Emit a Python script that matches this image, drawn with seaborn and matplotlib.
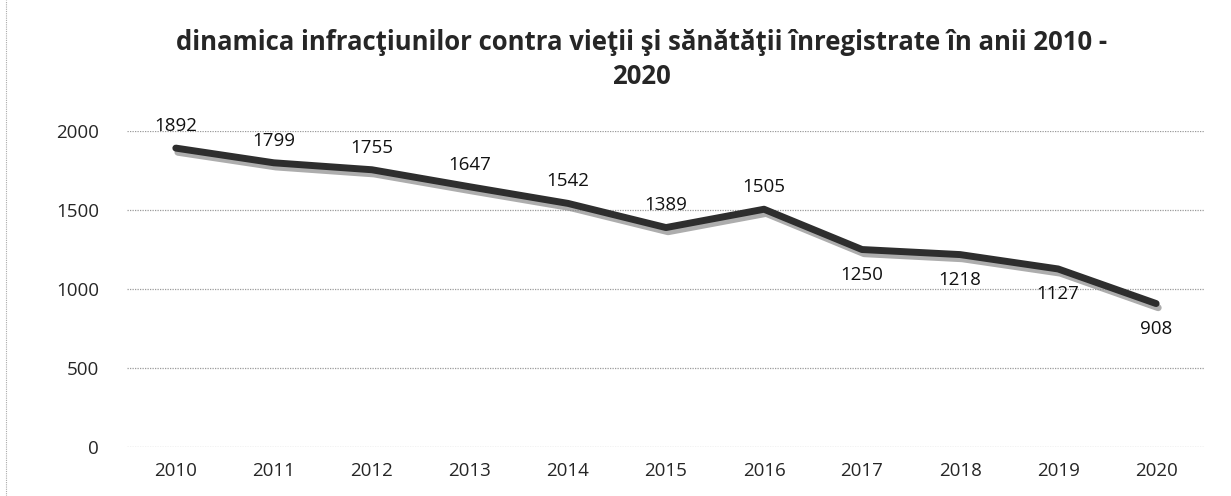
import pandas as pd
import seaborn as sns
import matplotlib.pyplot as plt
import matplotlib.patheffects as pe
from matplotlib.lines import Line2D

# Data
years = ["2010", "2011", "2012", "2013", "2014", "2015", "2016", "2017", "2018", "2019", "2020"]
crimes = [1892, 1799, 1755, 1647, 1542, 1389, 1505, 1250, 1218, 1127, 908]
yticks = [0, 500, 1000, 1500, 2000]

df = pd.DataFrame({"year": years, "value": crimes})
df["pos"] = range(len(df))

sns.set_style("white")
plt.rcParams["font.family"] = ["Open Sans", "DejaVu Sans"]

fig = plt.figure(figsize=(12.31, 4.96), dpi=100)
ax = fig.add_axes([0.103, 0.0988, 0.876, 0.637])

sns.lineplot(data=df, x="pos", y="value", ax=ax, color="#2e2e2e", linewidth=5,
             solid_capstyle="round",
             path_effects=[pe.SimpleLineShadow(offset=(1.5, -3), shadow_color="#8a8a8a", alpha=0.7),
                           pe.Normal()])

# data labels: above the line up to 2016, below afterwards
for i, v in enumerate(crimes):
    dy = 16 if i < 7 else -18
    ax.annotate(str(v), (i, v), xytext=(0, dy), textcoords="offset points",
                ha="center", va="center", fontsize=13.5, color="#111111")

ax.set_xlim(-0.5, len(years) - 0.5)
ax.set_ylim(0, 2000)
ax.set_xticks(range(len(years)))
ax.set_xticklabels(years)
ax.set_yticks(yticks)
ax.set_xticks([i + 0.5 for i in range(len(years) - 1)], minor=True)
ax.tick_params(axis="x", which="major", length=0, pad=11, labelsize=13.5)
ax.tick_params(axis="x", which="minor", length=4, direction="in", color="#888888")
ax.tick_params(axis="y", length=0, pad=20, labelsize=13.5)

for y in yticks:
    ax.axhline(y, color="#9a9a9a", linewidth=0.9, linestyle=(0, (1, 1)), zorder=0)

for s in ax.spines.values():
    s.set_visible(False)
ax.set_xlabel("")
ax.set_ylabel("")

fig.text(0.521, 0.88, "dinamica infracţiunilor contra vieţii şi sănătăţii înregistrate în anii 2010 -\n2020",
         ha="center", va="center", fontsize=18.5, fontweight="bold", linespacing=1.3)

# scan border on the left
fig.add_artist(Line2D([0.005, 0.005], [0, 1], color="#aaaaaa", linewidth=0.8,
                      linestyle=(0, (1, 1))))

fig.savefig("out.png", dpi=100)
